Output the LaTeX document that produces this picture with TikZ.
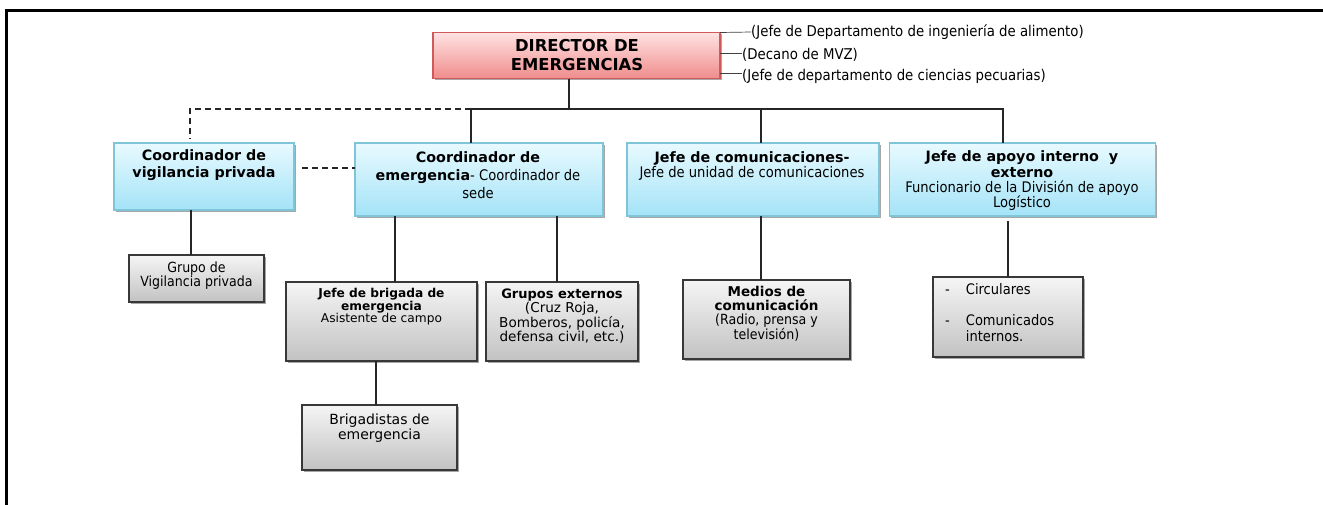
\documentclass[tikz,border=0pt]{standalone}
\usepackage{fontspec}
\setmainfont{DejaVu Sans}
\newfontfamily\tah{DejaVu Sans Condensed}
\usetikzlibrary{shadows}
\definecolor{bluetop}{HTML}{E8FAFF}
\definecolor{bluebot}{HTML}{A4E3F7}
\definecolor{bluebd}{HTML}{80C4D8}
\definecolor{pinktop}{HTML}{FFE2E2}
\definecolor{pinkbot}{HTML}{F08C8C}
\definecolor{pinkbd}{HTML}{D05A5A}
\definecolor{graytop}{HTML}{F5F5F5}
\definecolor{graybot}{HTML}{C2C2C2}
\definecolor{graybd}{HTML}{383838}
\newcommand\ftah{\tah\mdseries\fontsize{14.6}{15}\selectfont}
\begin{document}
\begin{tikzpicture}[x=1pt,y=-1pt,
  box/.style={inner sep=0pt,outer sep=0pt,line width=1.1pt,
    drop shadow={shadow xshift=1.6pt,shadow yshift=-1.8pt,opacity=0.35,fill=black}},
  bluebox/.style={box,draw=bluebd,top color=bluetop,bottom color=bluebot},
  pinkbox/.style={box,draw=pinkbd,top color=pinktop,bottom color=pinkbot},
  graybox/.style={box,draw=graybd,top color=graytop,bottom color=graybot},
  lbl/.style={inner sep=0pt,align=center,text=black},
  ann/.style={inner sep=0pt,anchor=west,text=black,font=\tah\fontsize{14.8}{16}\selectfont},
  conn/.style={line width=1.8pt,black!85},
  dconn/.style={conn,dash pattern=on 6pt off 4pt},
  annline/.style={line width=0.7pt,black!75}]
\useasboundingbox (0,0) rectangle (1323,504);
% frame
\draw[line width=3pt,line cap=rect] (6.5,504) -- (6.5,10.5) -- (1323,10.5);

% boxes
\node[pinkbox,minimum width=287pt,minimum height=46pt] (dir) at (576.5,55.5) {};
\node[bluebox,minimum width=180pt,minimum height=67pt] (vig) at (204,176.5) {};
\node[bluebox,minimum width=248pt,minimum height=73pt] (coord) at (479,179.5) {};
\node[bluebox,minimum width=252pt,minimum height=73pt] (com) at (753,179.5) {};
\node[bluebox,minimum width=266pt,minimum height=73pt] (apoyo) at (1022.5,179.5) {};
\node[graybox,minimum width=135pt,minimum height=47pt] (gvig) at (196.5,278.5) {};
\node[graybox,minimum width=191pt,minimum height=79pt] (brig) at (381.5,321.5) {};
\node[graybox,minimum width=152pt,minimum height=79pt] (gext) at (562,321.5) {};
\node[graybox,minimum width=167pt,minimum height=79pt] (medios) at (766.5,319.5) {};
\node[graybox,minimum width=150pt,minimum height=80pt] (circ) at (1008,317) {};
\node[graybox,minimum width=155pt,minimum height=65pt] (brigd) at (379.5,437.5) {};

% texts
\node[lbl,font=\fontsize{16.4}{19}\selectfont\bfseries] (dirT) at (577,55) {DIRECTOR DE\\EMERGENCIAS};
\node[lbl,font=\fontsize{14.3}{17}\selectfont\bfseries] (vigT) at (204,165) {Coordinador de\\vigilancia privada};
\node[lbl,font=\fontsize{14.3}{18}\selectfont\bfseries] (coordT) at (478,175)
  {Coordinador de\\emergencia{\tah\mdseries\fontsize{14.6}{18}\selectfont- Coordinador de}\\{\tah\mdseries\fontsize{14.6}{18}\selectfont sede}};
\node[lbl,font=\fontsize{14.3}{15}\selectfont\bfseries] (comT) at (752,166)
  {Jefe de comunicaciones-\\{\ftah Jefe de unidad de comunicaciones}};
\node[lbl,font=\fontsize{14.3}{14.7}\selectfont\bfseries] (apoyoT) at (1022,181)
  {Jefe de apoyo interno\ \ y\\[1pt]externo\\{\ftah Funcionario de la División de apoyo}\\{\ftah Logístico}};
\node[lbl,font=\tah\fontsize{14}{14.5}\selectfont] (gvigT) at (196.5,275.5)
  {Grupo de\\Vigilancia privada};
\node[lbl,font=\fontsize{12.2}{12.6}\selectfont\bfseries] (brigT) at (381.5,307)
  {Jefe de brigada de\\emergencia\\{\mdseries Asistente de campo}};
\node[lbl,font=\fontsize{13}{14.3}\selectfont\bfseries] (gextT) at (562,316)
  {Grupos externos\\{\mdseries\fontsize{13.6}{14.3}\selectfont (Cruz Roja,}\\{\mdseries\fontsize{13.6}{14.3}\selectfont Bomberos, policía,}\\{\mdseries\fontsize{13.6}{14.3}\selectfont defensa civil, etc.)}};
\node[lbl,font=\fontsize{13.5}{13.8}\selectfont\bfseries] (mediosT) at (766.5,314)
  {Medios de\\comunicación\\{\tah\mdseries\fontsize{14}{13.8}\selectfont (Radio, prensa y}\\{\tah\mdseries\fontsize{14}{13.8}\selectfont televisión)}};
\node[lbl,font=\tah\fontsize{14.5}{15}\selectfont,anchor=north west] (circT) at (945,283)
  {\begin{tabular}{@{}l@{\hspace{16pt}}l@{}}-&Circulares\\[16pt]-&Comunicados\\&internos.\end{tabular}};
\node[lbl,font=\fontsize{14}{15}\selectfont] (brigdT) at (379.5,428.5)
  {Brigadistas de\\emergencia};

% annotations
\node[ann] (a1) at (751,32) {(Jefe de Departamento de ingeniería de alimento)};
\node[ann] (a2) at (742,55) {(Decano de MVZ)};
\node[ann] (a3) at (742,76) {(Jefe de departamento de ciencias pecuarias)};
\coordinate (l2) at (742,53);
\coordinate (l3) at (742,73);
\draw[annline] (dir.north east) -- (a1.west);
\draw[annline] (l2 -| dir.east) -- (l2);
\draw[annline] (l3 -| dir.east) -- (l3);

% connector coordinates
\coordinate (stem) at (569,109);
\coordinate (busL) at (471,109);
\coordinate (busR) at (1003,109);
\coordinate (dcom) at (761,109);
\coordinate (dvig) at (190,109);
\coordinate (dh) at (302,168);
\coordinate (s1) at (191,0);
\coordinate (s2) at (395,0);
\coordinate (s3) at (557,0);
\coordinate (s4) at (761,0);
\coordinate (s5) at (1008,0);
\coordinate (s6) at (376,0);

\draw[conn] (dir.south -| stem) -- (stem);
\draw[conn,line cap=rect] (busL) -- (busR);
\draw[conn] (busL) -- (busL |- coord.north);
\draw[conn] (dcom) -- (dcom |- com.north);
\draw[conn] (busR) -- (busR |- apoyo.north);
\draw[dconn] (busL) -- (dvig) -- ([yshift=4pt]dvig |- vig.north);
\draw[dconn] (dh) -- (dh -| coord.west);
\draw[conn] (vig.south -| s1) -- (gvig.north -| s1);
\draw[conn] (coord.south -| s2) -- (brig.north -| s2);
\draw[conn] (coord.south -| s3) -- (gext.north -| s3);
\draw[conn] (com.south -| s4) -- (medios.north -| s4);
\draw[conn] ([yshift=-5pt]apoyo.south -| s5) -- (circ.north -| s5);
\draw[conn] (brig.south -| s6) -- (brigd.north -| s6);
\end{tikzpicture}
\end{document}
